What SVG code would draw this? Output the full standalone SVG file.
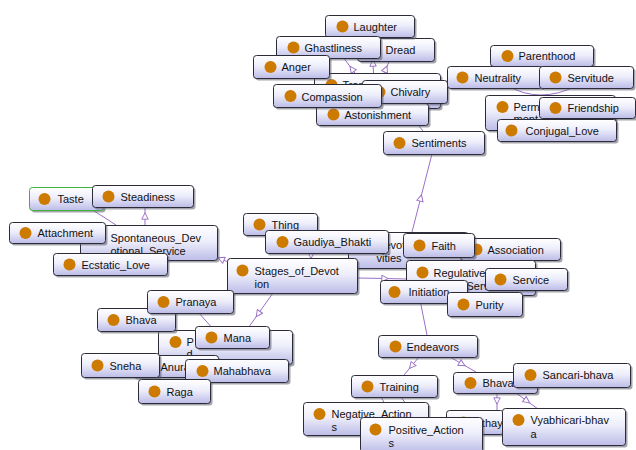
<svg xmlns="http://www.w3.org/2000/svg" width="636" height="450" viewBox="0 0 636 450">
<defs>
<linearGradient id="g" x1="0" y1="0" x2="0" y2="1">
<stop offset="0" stop-color="#ffffff"/>
<stop offset="0.45" stop-color="#eeeefb"/>
<stop offset="1" stop-color="#bcbce8"/>
</linearGradient>
<marker id="tri" viewBox="0 0 10 10" refX="5" refY="5" markerWidth="9" markerHeight="8" markerUnits="userSpaceOnUse" orient="auto">
<path d="M1,1 L9,5 L1,9 z" fill="#fff" stroke="#9a70c8" stroke-width="1.2"/>
</marker>
</defs>
<style>
.sh{fill:#5a5a6a;opacity:.55}
.b{fill:url(#g);stroke:#2c2c38;stroke-width:1}
.d{fill:#cc7a00}
text{font-family:"Liberation Sans",Arial,sans-serif;font-size:11px;fill:#111}
.e{fill:none;stroke:#9a70c8;stroke-width:1}
.m{marker-mid:url(#tri)}
.tb{fill:url(#g);stroke:#3cb43c;stroke-width:1}
</style>
<rect width="636" height="450" fill="#fff"/>
<g id="connectors">
<path class="e m" d="M412,232 L420.7,198 L432,154"/>
<path class="e" d="M423,131 L405,108"/>
<path class="e m" d="M360,80 L351.9,69 L340,53"/>
<path class="e m" d="M374,80 L372.9,63 L372,48"/>
<path class="e m" d="M381,80 L385.8,69 L392,55"/>
<path class="e" d="M508,86 Q540,104 576,86"/>
<path class="e" d="M88,207 L116,225"/>
<path class="e m" d="M145,226 L145,216 L145,206"/>
<path class="e m" d="M228,262 L221,259 L214,256"/>
<path class="e m" d="M311,252 L311,255.5 L311,259"/>
<path class="e m" d="M357,278 L385,278.5 L406,279"/>
<path class="e m" d="M273,293 L258.1,314 L246,331"/>
<path class="e" d="M198,312 L214,330"/>
<path class="e" d="M419,295 L427,335"/>
<path class="e m" d="M419,357 L411.5,366 L404,375"/>
<path class="e m" d="M450,357 L462.2,364.05 L476,372"/>
<path class="e m" d="M497,393 L497,401 L497,410"/>
<path class="e m" d="M516,393 L527,401 L538,409"/>
<path class="e" d="M381,397 L385,404"/>
<path class="e" d="M401,397 L406,404"/>
</g>

<g id="transitory" transform="translate(314.5,73.5)"><rect class="sh" x="2" y="2" width="126" height="35" rx="3"/><rect class="b" width="126" height="35" rx="3"/><circle class="d" cx="17" cy="11.5" r="6"/><text x="28" y="15">Tran</text></g>
<g id="astonishment" transform="translate(316.5,103.5)"><rect class="sh" x="2" y="2" width="112" height="22" rx="3"/><rect class="b" width="112" height="22" rx="3"/><circle class="d" cx="17" cy="11" r="6"/><text x="28" y="15">Astonishment</text></g>
<g id="chivalry" transform="translate(362.5,80.5)"><rect class="sh" x="2" y="2" width="85" height="23" rx="3"/><rect class="b" width="85" height="23" rx="3"/><circle class="d" cx="17" cy="11.5" r="6"/><text x="28" y="15.5">Chivalry</text></g>
<g id="compassion" transform="translate(273.5,84.5)"><rect class="sh" x="2" y="2" width="108" height="23" rx="3"/><rect class="b" width="108" height="23" rx="3"/><circle class="d" cx="17" cy="11.5" r="6"/><text x="28" y="16">Compassion</text></g>
<g id="dread" transform="translate(357.5,38.5)"><rect class="sh" x="2" y="2" width="77" height="23" rx="3"/><rect class="b" width="77" height="23" rx="3"/><circle class="d" cx="17" cy="11.5" r="6"/><text x="28" y="15.5">Dread</text></g>
<g id="laughter" transform="translate(325.5,15.5)"><rect class="sh" x="2" y="2" width="89" height="22" rx="3"/><rect class="b" width="89" height="22" rx="3"/><circle class="d" cx="17" cy="11" r="6"/><text x="28" y="15">Laughter</text></g>
<g id="ghastliness" transform="translate(276.5,36.5)"><rect class="sh" x="2" y="2" width="104" height="22" rx="3"/><rect class="b" width="104" height="22" rx="3"/><circle class="d" cx="17" cy="11" r="6"/><text x="28" y="15">Ghastliness</text></g>
<g id="anger" transform="translate(253.5,55.5)"><rect class="sh" x="2" y="2" width="76" height="23" rx="3"/><rect class="b" width="76" height="23" rx="3"/><circle class="d" cx="17" cy="11.5" r="6"/><text x="28" y="15.5">Anger</text></g>

<g id="parenthood" transform="translate(490.5,45.5)"><rect class="sh" x="2" y="2" width="103" height="21" rx="3"/><rect class="b" width="103" height="21" rx="3"/><circle class="d" cx="17" cy="10.5" r="6"/><text x="28" y="14.5">Parenthood</text></g>
<g id="neutrality" transform="translate(447.5,66.5)"><rect class="sh" x="2" y="2" width="95" height="22" rx="3"/><rect class="b" width="95" height="22" rx="3"/><circle class="d" cx="15" cy="11" r="6"/><text x="27" y="15">Neutrality</text></g>
<g id="servitude" transform="translate(539.5,66.5)"><rect class="sh" x="2" y="2" width="94" height="22" rx="3"/><rect class="b" width="94" height="22" rx="3"/><circle class="d" cx="16" cy="11" r="6"/><text x="28" y="15">Servitude</text></g>
<g id="permanent" transform="translate(485.5,95.5)"><rect class="sh" x="2" y="2" width="130" height="35" rx="3"/><rect class="b" width="130" height="35" rx="3"/><circle class="d" cx="17" cy="11.5" r="6"/><text x="28" y="15.5">Perma<tspan x="28" y="27">ment</tspan></text></g>
<g id="friendship" transform="translate(539.5,97.5)"><rect class="sh" x="2" y="2" width="96" height="21" rx="3"/><rect class="b" width="96" height="21" rx="3"/><circle class="d" cx="16" cy="10.5" r="6"/><text x="28" y="14.5">Friendship</text></g>
<g id="conjugal_love" transform="translate(497.5,119.5)"><rect class="sh" x="2" y="2" width="119" height="22" rx="3"/><rect class="b" width="119" height="22" rx="3"/><circle class="d" cx="14" cy="11" r="6"/><text x="28" y="15.5">Conjugal_Love</text></g>
<g id="sentiments" transform="translate(383.5,131.5)"><rect class="sh" x="2" y="2" width="101" height="23" rx="3"/><rect class="b" width="101" height="23" rx="3"/><circle class="d" cx="16" cy="11.5" r="6"/><text x="28" y="15.5">Sentiments</text></g>

<g id="spontaneous" transform="translate(80.5,225.5)"><rect class="sh" x="2" y="2" width="137" height="35" rx="3"/><rect class="b" width="137" height="35" rx="3"/><circle class="d" cx="17" cy="12" r="6"/><text x="30" y="16">Spontaneous_Dev<tspan x="30" y="29">otional_Service</tspan></text></g>
<g id="taste" transform="translate(29.5,187.5)"><rect class="sh" x="2" y="2" width="74" height="23" rx="3"/><rect class="tb" width="74" height="23" rx="3"/><circle class="d" cx="15" cy="11.5" r="6"/><text x="28" y="15.5">Taste</text></g>
<g id="steadiness" transform="translate(92.5,185.5)"><rect class="sh" x="2" y="2" width="101" height="22" rx="3"/><rect class="b" width="101" height="22" rx="3"/><circle class="d" cx="16" cy="11" r="6"/><text x="28" y="15">Steadiness</text></g>
<g id="attachment" transform="translate(9.5,222.5)"><rect class="sh" x="2" y="2" width="96" height="21" rx="3"/><rect class="b" width="96" height="21" rx="3"/><circle class="d" cx="16" cy="10.5" r="6"/><text x="28" y="14.5">Attachment</text></g>
<g id="ecstatic_love" transform="translate(53.5,253.5)"><rect class="sh" x="2" y="2" width="114" height="22" rx="3"/><rect class="b" width="114" height="22" rx="3"/><circle class="d" cx="16" cy="11" r="6"/><text x="28" y="15">Ecstatic_Love</text></g>

<g id="thing" transform="translate(243.5,213.5)"><rect class="sh" x="2" y="2" width="74" height="22" rx="3"/><rect class="b" width="74" height="22" rx="3"/><circle class="d" cx="16" cy="11" r="6"/><text x="28" y="15">Thing</text></g>
<g id="devotional_activities" transform="translate(348.5,232.5)"><rect class="sh" x="2" y="2" width="120" height="36" rx="3"/><rect class="b" width="120" height="36" rx="3"/><circle class="d" cx="17" cy="12" r="6"/><text x="28" y="16">Devot<tspan x="28" y="29">vities</tspan></text></g>
<g id="gaudiya_bhakti" transform="translate(265.5,230.5)"><rect class="sh" x="2" y="2" width="123" height="23" rx="3"/><rect class="b" width="123" height="23" rx="3"/><circle class="d" cx="17" cy="11.5" r="6"/><text x="28" y="15.5">Gaudiya_Bhakti</text></g>
<g id="stages_of_devotion" transform="translate(227.5,258.5)"><rect class="sh" x="2" y="2" width="130" height="35" rx="3"/><rect class="b" width="130" height="35" rx="3"/><circle class="d" cx="15" cy="12" r="6"/><text x="27" y="16">Stages_of_Devot<tspan x="27" y="29">ion</tspan></text></g>
<g id="association" transform="translate(460.5,238.5)"><rect class="sh" x="2" y="2" width="100" height="22" rx="3"/><rect class="b" width="100" height="22" rx="3"/><circle class="d" cx="16" cy="11" r="6"/><text x="27" y="15">Association</text></g>
<g id="faith" transform="translate(403.5,233.5)"><rect class="sh" x="2" y="2" width="71" height="24" rx="3"/><rect class="b" width="71" height="24" rx="3"/><circle class="d" cx="16" cy="12" r="6"/><text x="28" y="16">Faith</text></g>
<g id="regulative" transform="translate(406.5,260.5)"><rect class="sh" x="2" y="2" width="129" height="35" rx="3"/><rect class="b" width="129" height="35" rx="3"/><circle class="d" cx="16" cy="12" r="6"/><text x="27" y="16">Regulative_D<tspan x="60" y="29">Serv</tspan></text></g>
<g id="service" transform="translate(485.5,268.5)"><rect class="sh" x="2" y="2" width="82" height="22" rx="3"/><rect class="b" width="82" height="22" rx="3"/><circle class="d" cx="15" cy="11" r="6"/><text x="27" y="15">Service</text></g>
<g id="initiation" transform="translate(380.5,280.5)"><rect class="sh" x="2" y="2" width="87" height="23" rx="3"/><rect class="b" width="87" height="23" rx="3"/><circle class="d" cx="14" cy="11.5" r="6"/><text x="28" y="15.5">Initiation</text></g>
<g id="purity" transform="translate(447.5,292.5)"><rect class="sh" x="2" y="2" width="75" height="24" rx="3"/><rect class="b" width="75" height="24" rx="3"/><circle class="d" cx="16" cy="12" r="6"/><text x="28" y="16">Purity</text></g>

<g id="prema" transform="translate(158.5,330.5)"><rect class="sh" x="2" y="2" width="134" height="34" rx="3"/><rect class="b" width="134" height="34" rx="3"/><circle class="d" cx="17" cy="11.5" r="6"/><text x="28" y="15.5">P<tspan x="28" y="27.5">d</tspan></text></g>
<g id="bhava_left" transform="translate(97.5,308.5)"><rect class="sh" x="2" y="2" width="78" height="23" rx="3"/><rect class="b" width="78" height="23" rx="3"/><circle class="d" cx="16" cy="11.5" r="6"/><text x="28" y="15.5">Bhava</text></g>
<g id="pranaya" transform="translate(147.5,290.5)"><rect class="sh" x="2" y="2" width="86" height="23" rx="3"/><rect class="b" width="86" height="23" rx="3"/><circle class="d" cx="16" cy="11.5" r="6"/><text x="28" y="15.5">Pranaya</text></g>
<g id="mana" transform="translate(195.5,326.5)"><rect class="sh" x="2" y="2" width="74" height="22" rx="3"/><rect class="b" width="74" height="22" rx="3"/><circle class="d" cx="16" cy="11" r="6"/><text x="28" y="15">Mana</text></g>
<g id="anuraga" transform="translate(132.5,355.5)"><rect class="sh" x="2" y="2" width="86" height="22" rx="3"/><rect class="b" width="86" height="22" rx="3"/><circle class="d" cx="16" cy="11" r="6"/><text x="28" y="15">Anuraga</text></g>
<g id="sneha" transform="translate(81.5,353.5)"><rect class="sh" x="2" y="2" width="78" height="24" rx="3"/><rect class="b" width="78" height="24" rx="3"/><circle class="d" cx="16" cy="12" r="6"/><text x="28" y="16">Sneha</text></g>
<g id="mahabhava" transform="translate(185.5,359.5)"><rect class="sh" x="2" y="2" width="103" height="23" rx="3"/><rect class="b" width="103" height="23" rx="3"/><circle class="d" cx="17" cy="11.5" r="6"/><text x="28" y="15.5">Mahabhava</text></g>
<g id="raga" transform="translate(138.5,379.5)"><rect class="sh" x="2" y="2" width="72" height="24" rx="3"/><rect class="b" width="72" height="24" rx="3"/><circle class="d" cx="16" cy="12" r="6"/><text x="28" y="16">Raga</text></g>

<g id="endeavors" transform="translate(378.5,335.5)"><rect class="sh" x="2" y="2" width="99" height="22" rx="3"/><rect class="b" width="99" height="22" rx="3"/><circle class="d" cx="17" cy="11" r="6"/><text x="28" y="15">Endeavors</text></g>
<g id="training" transform="translate(351.5,375.5)"><rect class="sh" x="2" y="2" width="86" height="22" rx="3"/><rect class="b" width="86" height="22" rx="3"/><circle class="d" cx="16" cy="11" r="6"/><text x="28" y="15">Training</text></g>
<g id="bhava_right" transform="translate(453.5,372.5)"><rect class="sh" x="2" y="2" width="84" height="21" rx="3"/><rect class="b" width="84" height="21" rx="3"/><circle class="d" cx="17" cy="10.5" r="6"/><text x="29" y="14.5">Bhava</text></g>
<g id="sancari_bhava" transform="translate(513.5,363.5)"><rect class="sh" x="2" y="2" width="117" height="24" rx="3"/><rect class="b" width="117" height="24" rx="3"/><circle class="d" cx="17" cy="11.5" r="6"/><text x="29" y="15.5">Sancari-bhava</text></g>
<g id="sthayi_bhava" transform="translate(446.5,410.5)"><rect class="sh" x="2" y="2" width="57" height="24" rx="3"/><rect class="b" width="57" height="24" rx="3"/><circle class="d" cx="17" cy="12" r="6"/><text x="28" y="16">Sthayi</text></g>
<g id="negative_actions" transform="translate(303.5,402.5)"><rect class="sh" x="2" y="2" width="125" height="33" rx="3"/><rect class="b" width="125" height="33" rx="3"/><circle class="d" cx="16" cy="11.5" r="6"/><text x="28" y="15.5">Negative_Action<tspan x="28" y="28">s</tspan></text></g>
<g id="positive_actions" transform="translate(360.5,417.5)"><rect class="sh" x="2" y="2" width="122" height="35" rx="3"/><rect class="b" width="122" height="35" rx="3"/><circle class="d" cx="15" cy="12" r="6"/><text x="28" y="16">Positive_Action<tspan x="28" y="29">s</tspan></text></g>
<g id="vyabhicari_bhava" transform="translate(502.5,408.5)"><rect class="sh" x="2" y="2" width="123" height="37" rx="3"/><rect class="b" width="123" height="37" rx="3"/><circle class="d" cx="16" cy="11.5" r="6"/><text x="28" y="15.5">Vyabhicari-bhav<tspan x="28" y="29">a</tspan></text></g>
</svg>
